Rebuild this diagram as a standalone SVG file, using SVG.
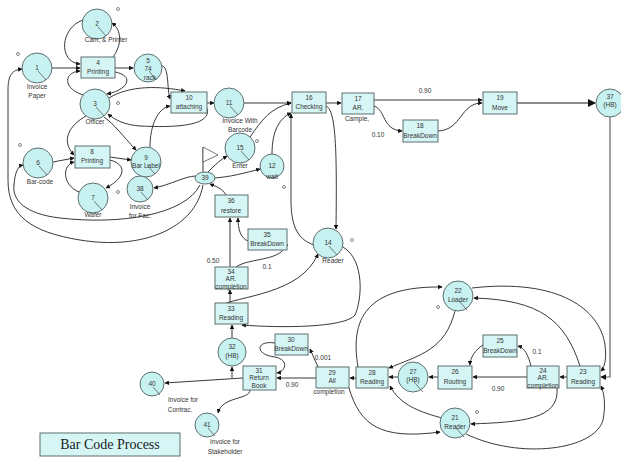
<svg xmlns="http://www.w3.org/2000/svg" width="621" height="462" viewBox="0 0 621 462">
<defs>
<marker id="a" viewBox="0 0 8 8" refX="7" refY="4" markerWidth="5" markerHeight="5" orient="auto-start-reverse"><path d="M0,0 L8,4 L0,8 z" fill="#111"/></marker>
<style>
.c{fill:#c8f2f2;stroke:#5d6e6e;stroke-width:1}
.r{fill:#d6f6f6;stroke:#5d6e6e;stroke-width:1}
.e{fill:none;stroke:#222;stroke-width:0.9;marker-end:url(#a)}
.n{fill:none;stroke:#222;stroke-width:0.9}
.h{stroke:#444;stroke-width:0.7}
text{font-family:"Liberation Sans",Arial,sans-serif;font-size:6.5px;fill:#333;text-anchor:middle}
.t{font-family:"Liberation Serif","Times New Roman",serif;font-size:14px;fill:#222}
.d{fill:none;stroke:#555;stroke-width:0.7}
</style>
</defs>
<rect width="621" height="462" fill="#fff"/>
<g id="connectors">
<path class="e" d="M52,68 L80,68"/>
<path class="e" d="M83,20 C60,28 58,62 80,64"/>
<path class="e" d="M113,57 C122,45 122,30 112,23"/>
<path class="e" d="M115,68 L133,68"/>
<path class="e" d="M83,95 C62,88 64,72 80,71"/>
<path class="e" d="M115,72 C135,76 128,90 107,94"/>
<path class="e" d="M162,66 C169,66 167,90 170,99"/>
<path class="e" d="M109,98 C130,85 160,86 185,91"/>
<path class="e" d="M207,108 C212,125 180,128 140,126 C125,125 115,120 108,114"/>
<path class="e" d="M150,147 C150,125 158,108 170,106"/>
<path class="e" d="M104,117 C115,125 122,135 136,150"/>
<path class="e" d="M86,116 C70,125 60,140 74,155"/>
<path class="e" d="M53,162 L74,158"/>
<path class="e" d="M79,192 C62,185 62,165 74,162"/>
<path class="e" d="M110,160 C128,165 125,178 106,188"/>
<path class="e" d="M110,157 L131,160"/>
<path class="e" d="M196,176 C185,176 170,185 154,188"/>
<path class="e" d="M208,172 C215,165 220,160 227,156"/>
<path class="e" d="M214,178 C230,177 245,173 260,169"/>
<path class="e" d="M250,137 C262,120 270,108 291,103"/>
<path class="e" d="M207,103 L214,103"/>
<path class="e" d="M244,103 L291,103"/>
<path class="e" d="M272,154 C272,130 280,118 291,113"/>
<path class="e" d="M326,106 C336,110 337,150 336,229"/>
<path class="e" d="M314,245 C300,240 291,230 291,200 L291,114"/>
<path class="e" d="M326,103 L341,103"/>
<path class="e" d="M374,100 L482,100"/>
<path class="e" d="M374,106 C386,110 382,130 402,131"/>
<path class="e" d="M438,131 C462,130 460,103 482,103"/>
<path class="e" d="M517,103 L595,103" style="stroke:#666;stroke-width:1.6"/>
<path class="e" d="M610,117 L610,377 L601,377" style="stroke:#666;stroke-width:1.2"/>
<path class="e" d="M203,185 C195,230 140,250 80,240 C30,232 8,215 8,180 L8,90 C8,75 12,70 22,69"/>
<path class="e" d="M200,185 C185,215 120,225 60,218 C25,214 12,200 14,185 C15,172 18,166 23,165"/>
<path class="e" d="M226,195 C222,188 215,186 210,184"/>
<path class="e" d="M230,267 L230,218"/>
<path class="e" d="M236,267 C250,257 285,262 286,242"/>
<path class="e" d="M248,241 C240,238 238,228 238,218"/>
<path class="e" d="M230,303 L230,290"/>
<path class="e" d="M216,307 C240,295 300,295 318,254"/>
<path class="e" d="M343,247 C365,260 362,300 355,315 C345,328 280,328 242,325"/>
<path class="e" d="M232,338 L232,325"/>
<path class="e" d="M243,378 L165,383"/>
<path class="e" d="M232,378 L232,367"/>
<path class="e" d="M250,390 C250,400 222,396 218,413"/>
<path class="e" d="M316,378 L277,378"/>
<path class="e" d="M318,367 L310,349"/>
<path class="e" d="M275,343 C255,340 255,355 275,357 C290,360 285,372 277,373"/>
<path class="e" d="M356,378 L350,378"/>
<path class="e" d="M349,388 C360,425 380,440 440,432"/>
<path class="e" d="M442,418 C420,412 400,405 390,386"/>
<path class="e" d="M358,367 C350,320 365,286 442,287"/>
<path class="e" d="M455,311 C445,350 420,355 389,368"/>
<path class="e" d="M398,377 L389,377"/>
<path class="e" d="M438,377 L429,377"/>
<path class="e" d="M527,377 L473,377"/>
<path class="e" d="M531,366 C528,355 525,348 518,346"/>
<path class="e" d="M483,345 C475,350 470,358 470,365"/>
<path class="e" d="M567,377 L560,377"/>
<path class="e" d="M580,366 C565,320 540,300 474,298"/>
<path class="e" d="M472,288 C560,278 600,310 605,345 C607,360 604,368 601,371"/>
<path class="e" d="M557,388 C560,420 520,422 471,424"/>
<path class="e" d="M466,434 C520,460 595,450 603,420 C606,405 604,392 601,386"/>
</g>
<g id="n1"><circle class="c" cx="37" cy="68" r="15"/><line class="h" x1="38" y1="71" x2="46" y2="80"/><text x="37" y="70">1</text><text x="37" y="89">Invoice</text><text x="37" y="98">Paper</text></g>
<g id="n2"><circle class="c" cx="97" cy="24" r="15"/><line class="h" x1="98" y1="27" x2="106" y2="36"/><text x="97" y="26">2</text><text x="106" y="42">Cam, &amp; Printer</text></g>
<g id="n3"><circle class="c" cx="95" cy="104" r="15"/><line class="h" x1="96" y1="107" x2="104" y2="116"/><text x="95" y="106">3</text><text x="95" y="124">Officer</text></g>
<g id="n5"><circle class="c" cx="148" cy="68" r="14"/><line class="h" x1="149" y1="71" x2="156" y2="80"/><text x="148" y="63">5</text><text x="148" y="71">74</text><text x="150" y="80">rack</text></g>
<g id="n6"><circle class="c" cx="38" cy="163" r="15"/><line class="h" x1="39" y1="166" x2="47" y2="175"/><text x="38" y="165">6</text><text x="40" y="184">Bar-code</text></g>
<g id="n7"><circle class="c" cx="93" cy="198" r="15"/><line class="h" x1="94" y1="201" x2="102" y2="210"/><text x="93" y="200">7</text><text x="93" y="217">Wafer</text></g>
<g id="n9"><circle class="c" cx="146" cy="162" r="15"/><line class="h" x1="147" y1="165" x2="155" y2="174"/><text x="146" y="160">9</text><text x="146" y="168">Bar Label</text></g>
<g id="n38"><circle class="c" cx="140" cy="189" r="13"/><line class="h" x1="141" y1="192" x2="148" y2="200"/><text x="140" y="191">38</text><text x="140" y="209">Invoice</text><text x="140" y="218">for Fac.</text></g>
<g id="n39"><line class="n" x1="203" y1="172" x2="203" y2="147"/><path d="M203,147 L218,155 L203,162 z" fill="#fff" stroke="#555" stroke-width="0.8"/><ellipse class="c" cx="205" cy="178" rx="10" ry="6"/><text x="205" y="180">39</text></g>
<g id="n11"><circle class="c" cx="229" cy="103" r="15"/><line class="h" x1="230" y1="106" x2="238" y2="115"/><text x="229" y="105">11</text><text x="240" y="123">Invoice With</text><text x="240" y="132">Barcode</text></g>
<g id="n15"><circle class="c" cx="240" cy="148" r="15"/><line class="h" x1="241" y1="151" x2="249" y2="160"/><text x="240" y="150">15</text><text x="240" y="168">Enter</text></g>
<g id="n12"><circle class="c" cx="272" cy="166" r="12"/><text x="272" y="168">12</text><text x="272" y="179">wait</text></g>
<g id="n14"><circle class="c" cx="328" cy="243" r="15"/><line class="h" x1="329" y1="246" x2="337" y2="255"/><text x="328" y="245">14</text><text x="333" y="263">Reader</text></g>
<g id="n37"><circle class="c" cx="610" cy="103" r="14"/><text x="610" y="99">37</text><text x="610" y="107">(HB)</text></g>
<g id="n32"><circle class="c" cx="232" cy="352" r="14"/><text x="232" y="349">32</text><text x="232" y="358">(HB)</text></g>
<g id="n40"><circle class="c" cx="152" cy="384" r="12"/><line class="h" x1="153" y1="387" x2="160" y2="395"/><text x="152" y="386">40</text><text x="183" y="402">Invoice for</text><text x="180" y="412">Contrac.</text></g>
<g id="n41"><circle class="c" cx="207" cy="425" r="12"/><line class="h" x1="208" y1="428" x2="215" y2="436"/><text x="207" y="427">41</text><text x="225" y="444">Invoice for</text><text x="225" y="454">Stakeholder</text></g>
<g id="n27"><circle class="c" cx="413" cy="377" r="15"/><line class="h" x1="414" y1="382" x2="423" y2="392"/><text x="413" y="374">27</text><text x="413" y="382">(HB)</text></g>
<g id="n22"><circle class="c" cx="458" cy="296" r="15"/><line class="h" x1="459" y1="301" x2="467" y2="310"/><text x="458" y="293">22</text><text x="458" y="302">Loader</text></g>
<g id="n21"><circle class="c" cx="455" cy="423" r="15"/><line class="h" x1="456" y1="428" x2="464" y2="437"/><text x="455" y="420">21</text><text x="455" y="429">Reader</text></g>
<g id="n4"><rect class="r" x="81" y="57" width="34" height="21"/><text x="98" y="65">4</text><text x="98" y="74">Printing</text></g>
<g id="n8"><rect class="r" x="75" y="146" width="35" height="22"/><text x="92" y="154">8</text><text x="92" y="163">Printing</text></g>
<g id="n10"><rect class="r" x="171" y="92" width="36" height="21"/><text x="189" y="100">10</text><text x="189" y="109">attaching</text></g>
<g id="n16"><rect class="r" x="292" y="92" width="34" height="21"/><text x="309" y="100">16</text><text x="309" y="109">Checking</text></g>
<g id="n17"><rect class="r" x="342" y="93" width="32" height="21"/><text x="358" y="101">17</text><text x="358" y="110">AR.</text><text x="357" y="121">Cample,</text></g>
<g id="n18"><rect class="r" x="403" y="120" width="35" height="22"/><text x="420" y="128">18</text><text x="420" y="138">BreakDown</text></g>
<g id="n19"><rect class="r" x="483" y="92" width="34" height="22"/><text x="500" y="100">19</text><text x="500" y="110">Move</text></g>
<g id="n36"><rect class="r" x="215" y="195" width="33" height="22"/><text x="231" y="203">36</text><text x="231" y="213">restore</text></g>
<g id="n35"><rect class="r" x="248" y="229" width="39" height="21"/><text x="267" y="237">35</text><text x="267" y="246">BreakDown</text></g>
<g id="n34"><rect class="r" x="215" y="267" width="33" height="22"/><text x="231" y="274">34</text><text x="231" y="281">AR.</text><text x="231" y="289">completion</text></g>
<g id="n33"><rect class="r" x="215" y="303" width="33" height="21"/><text x="231" y="311">33</text><text x="231" y="320">Reading</text></g>
<g id="n30"><rect class="r" x="275" y="334" width="33" height="21"/><text x="291" y="342">30</text><text x="291" y="351">BreakDown</text></g>
<g id="n31"><rect class="r" x="243" y="366" width="33" height="24"/><text x="259" y="373">31</text><text x="259" y="380">Return</text><text x="259" y="388">Book</text></g>
<g id="n29"><rect class="r" x="316" y="367" width="33" height="21"/><text x="332" y="375">29</text><text x="332" y="383">All</text><text x="329" y="394">completion</text></g>
<g id="n28"><rect class="r" x="356" y="367" width="32" height="21"/><text x="372" y="375">28</text><text x="372" y="384">Reading</text></g>
<g id="n26"><rect class="r" x="438" y="366" width="34" height="23"/><text x="455" y="374">26</text><text x="455" y="384">Routing</text></g>
<g id="n25"><rect class="r" x="483" y="335" width="34" height="22"/><text x="500" y="343">25</text><text x="500" y="353">BreakDown</text></g>
<g id="n24"><rect class="r" x="527" y="366" width="32" height="22"/><text x="543" y="373">24</text><text x="543" y="380">AR.</text><text x="543" y="388">completion</text></g>
<g id="n23"><rect class="r" x="567" y="366" width="33" height="22"/><text x="583" y="374">23</text><text x="583" y="384">Reading</text></g>
<g id="labels">
<text x="425" y="93">0.90</text><text x="378" y="137">0.10</text>
<text x="213" y="263">0.50</text><text x="267" y="269">0.1</text>
<text x="323" y="360">0.001</text><text x="292" y="387">0.90</text>
<text x="537" y="354">0.1</text><text x="498" y="391">0.90</text>
<circle class="d" cx="118" cy="9" r="1.5"/><circle class="d" cx="18" cy="54" r="1.5"/><circle class="d" cx="118" cy="103" r="1.5"/>
<circle class="d" cx="20" cy="145" r="1.5"/><circle class="d" cx="118" cy="192" r="1.5"/><circle class="d" cx="257" cy="141" r="1.5"/>
<circle class="d" cx="284" cy="187" r="1.5"/><circle class="d" cx="352" cy="240" r="1.5"/><circle class="d" cx="438" cy="307" r="1.5"/>
<circle class="d" cx="477" cy="412" r="1.5"/>
</g>
<g id="title"><rect x="40" y="433" width="140" height="23" fill="#d6f6f6" stroke="#5d6e6e"/><text class="t" x="110" y="449">Bar Code Process</text></g>
</svg>
